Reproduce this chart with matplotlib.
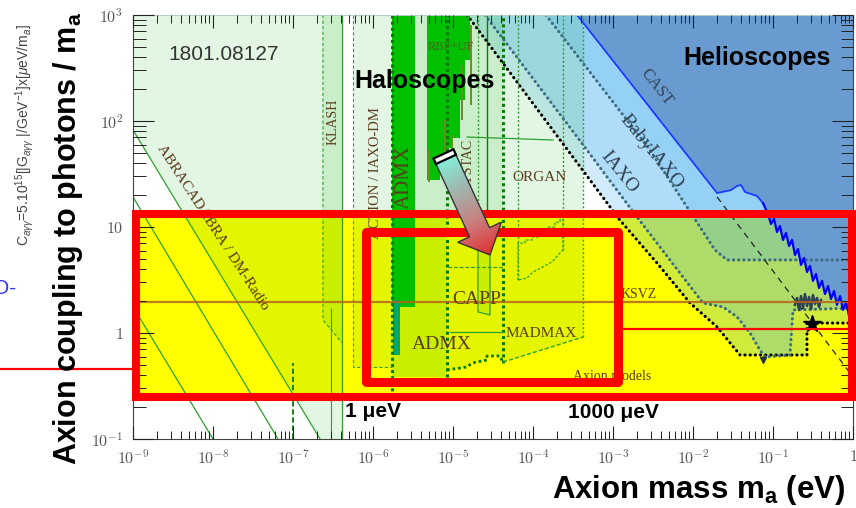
import numpy as np
import matplotlib
matplotlib.use("Agg")
import matplotlib.pyplot as plt
from matplotlib.patches import Polygon, Rectangle
from matplotlib.colors import LinearSegmentedColormap
from matplotlib.ticker import LogLocator, NullFormatter

plt.rcParams['font.family'] = ['Liberation Sans', 'DejaVu Sans']
plt.rcParams['mathtext.fontset'] = 'cm'
plt.rcParams['mathtext.rm'] = 'Liberation Sans'
plt.rcParams['mathtext.it'] = 'Liberation Sans:italic'
plt.rcParams['mathtext.bf'] = 'Liberation Sans:bold'

# ---------------- data: axion mass m_a (eV) vs C_agg = g/m ----------------
x_ticks = [1e-9, 1e-8, 1e-7, 1e-6, 1e-5, 1e-4, 1e-3, 1e-2, 1e-1, 1]
x_tick_labels = [r'$10^{-9}$', r'$10^{-8}$', r'$10^{-7}$', r'$10^{-6}$', r'$10^{-5}$',
                 r'$10^{-4}$', r'$10^{-3}$', r'$10^{-2}$', r'$10^{-1}$', r'$1$']
y_ticks = [0.1, 1, 10, 100, 1000]
y_tick_labels = [r'$10^{-1}$', r'$1$', r'$10$', r'$10^{2}$', r'$10^{3}$']

models_band = [0.249, 13.4]
ksvz_C = 1.96

# helioscopes
cast_m = [3.55e-4, 0.0200, 0.0299, 0.0355, 0.0398, 0.0447, 0.0631, 0.0750]
cast_C = [1000, 20.9, 22.3, 24.4, 24.9, 21.4, 19.6, 16.8]
cast_noise_m = [0.0866, 0.0944, 0.1029, 0.1122, 0.1223, 0.1334, 0.1454, 0.1585, 0.1728,
                0.1884, 0.2054, 0.2239, 0.2441, 0.2661, 0.2901, 0.3162, 0.3447, 0.3758,
                0.4097, 0.4467, 0.4870, 0.5309, 0.5788, 0.6310, 0.6879, 0.7499, 0.8175,
                0.8913, 1.0]
cast_noise_C = [13.27, 10.67, 11.89, 8.97, 10.21, 7.54, 8.78, 6.62, 7.54, 5.44, 6.20, 4.38,
                5.10, 3.76, 4.29, 3.10, 3.60, 2.66, 3.10, 2.33, 2.77, 2.09, 2.49, 1.84,
                2.23, 1.65, 1.96, 1.45, 1.65]
babyiaxo_m = [1.45e-4, 2.90e-3, 0.0188, 0.0266, 1.0]
babyiaxo_C = [1000, 53.2, 6.07, 4.89, 4.89]
iaxo_m = [2.51e-5, 4.73e-4, 2.0e-3, 0.0133, 0.0237, 0.0355, 0.0516, 0.0688, 0.0794,
          0.163, 0.178, 1.0]
iaxo_C = [1000, 53.2, 12.4, 1.92, 1.76, 1.42, 1.0, 0.69, 0.594, 0.619, 1.65, 1.72]
iaxo_plus_m = [1.50e-5, 1.22e-3, 3.55e-3, 9.17e-3, 0.0200, 0.0387, 0.266, 0.266, 1.0]
iaxo_plus_C = [1000, 11.6, 4.57, 1.92, 1.14, 0.62, 0.62, 1.24, 1.24]
trend_m = [0.0200, 1.0]
trend_C = [19.2, 0.385]
astro_noise_m = [0.188, 0.200, 0.211, 0.224, 0.237, 0.251, 0.266, 0.282, 0.299, 0.316,
                 0.335, 0.355, 0.376, 0.398]
astro_noise_C = [1.84, 2.14, 1.65, 2.23, 1.72, 2.33, 1.80, 2.19, 1.68, 2.28, 1.88, 2.14,
                 1.76, 2.05]
star_point = (0.31, 1.22)
iaxo_marker = (0.076, 0.56)

# haloscopes and LC circuits
abra_m = [1e-9, 1e-9, 2.18e-7, 4.10e-7, 4.10e-7]
abra_C = [1000, 82.2, 0.1, 0.1, 1000]
dmradio_m = [1e-9, 6.5e-8]
dmradio_C = [19.2, 0.1]
abra_low_m = [1e-9, 1e-8]
abra_low_C = [1.77, 0.1]
klash_m = [2.37e-7, 2.37e-7, 4.10e-7, 4.10e-7]
klash_C = [1000, 1.33, 0.805, 1000]
action_m = [5.62e-7, 5.62e-7, 1.73e-6, 1.73e-6]
action_C = [1000, 0.478, 0.478, 1000]
admx_m = [1.73e-6, 3.35e-6]
admx_C = [1.76, 1000]
admx_side_m = [1.78e-6, 2.18e-6]
admx_side_C = [0.62, 2.05]
proj1_m = [1.73e-6, 1.73e-6, 8.41e-6, 8.41e-6, 1.50e-5, 1.73e-5, 2.66e-5, 2.66e-5,
           3.87e-5, 4.22e-5, 4.22e-5]
proj1_C = [1000, 0.385, 0.385, 0.448, 0.478, 0.521, 0.556, 0.607, 0.607, 0.521, 1000]
proj2_m = [1.73e-6, 1.73e-6, 8.41e-6, 8.41e-6, 4.22e-5, 4.22e-5]
proj2_C = [1000, 0.385, 0.385, 13.6, 13.6, 1000]
madmax_m = [4.22e-5, 4.22e-5, 4.22e-4, 4.22e-4]
madmax_C = [1000, 0.532, 0.916, 1000]
rbf_m = [4.73e-6, 4.73e-6, 6.88e-6, 6.88e-6, 8.41e-6, 8.41e-6, 1.0e-5, 1.0e-5,
         1.22e-5, 1.22e-5, 1.41e-5, 1.41e-5, 1.63e-5, 1.63e-5]
rbf_C = [1000, 27.7, 27.7, 38.5, 38.5, 55.6, 55.6, 69.2, 69.2, 158, 158, 376, 376, 1000]
rbf_spike_m = [5.01e-6, 7.94e-6, 9.72e-6, 1.30e-5, 1.68e-5]
rbf_spike_lo = [26.6, 36.0, 53.2, 102, 141]
rbf_spike_hi = [53.2, 102, 73.8, 337, 805]
capp_m = [2.05e-5, 2.05e-5, 2.90e-5, 2.90e-5]
capp_C = [7.06, 1.58, 1.48, 7.06]
organ_m = [6.49e-5, 6.49e-5, 7.94e-5, 7.94e-5, 9.72e-5, 9.72e-5, 1.155e-4, 1.155e-4,
           1.50e-4, 1.50e-4, 1.88e-4, 1.88e-4, 2.18e-4, 2.18e-4, 2.37e-4, 2.37e-4,
           2.18e-4, 1.73e-4, 1.33e-4, 1.0e-4, 8.41e-5, 6.49e-5]
organ_C = [3.16, 7.06, 7.06, 7.53, 7.53, 8.05, 8.05, 8.97, 8.97, 10.0, 10.0, 11.1, 11.1,
           13.6, 13.6, 6.07, 5.69, 4.68, 4.20, 3.76, 3.30, 3.16]
haystac_top_m = [1.50e-5, 1.78e-4]
haystac_top_C = [70.6, 66.2]
capp_top_m = [8.6e-6, 4.22e-5]
capp_top_C = [4.20, 4.20]
proj_mid_m = [9.17e-6, 4.22e-5]
proj_mid_C = [1.02, 1.02]
dotted_thick_m = [1.73e-6, 8.41e-6, 4.22e-5]
dotted_thick_lo = [0.249, 0.385, 0.521]
dotted_thin_m = [2.05e-5, 6.49e-5, 2.37e-4, 4.22e-4]
dotted_thin_lo = [13.6, 3.16, 6.07, 0.916]
haystac_edge_m = 2.66e-5
haystac_edge_lo = 13.6
klash_wire_m = 2.99e-7
klash_wire_C = [0.1, 1.72]
lc_dash_m = 1e-7
lc_dash_C = [0.1, 0.52]

# highlight frames
outer_box_m = [1.09e-9, 0.972]
outer_box_C = [0.249, 13.4]
inner_box_m = [8.18e-7, 1.155e-3]
inner_box_C = [0.345, 8.97]
marker_right_m = [1.155e-3, 1.09]
marker_right_C = 1.09
marker_left_m = [2.0e-11, 1.09e-9]
marker_left_C = 0.457
arrow_tail = (7.6e-6, 48.9)
arrow_tip = (2.90e-5, 5.45)

# ---------------- figure ----------------
W, H = 856, 508
fig = plt.figure(figsize=(W / 100, H / 100), dpi=100)
ax = fig.add_axes([133 / W, 69 / H, 720 / W, 424 / H])
ax.set_xscale('log')
ax.set_yscale('log')
ax.set_xlim(1e-9, 1)
ax.set_ylim(0.1, 1000)

# axion model band
ax.fill_between([1e-9, 1], models_band[0], models_band[1], color='#ffff00', lw=0, zorder=1)

# helioscope sensitivity layers (translucent) and CAST exclusion (opaque)
blue = '#4bb0f0'
for mm, cc in [(iaxo_plus_m, iaxo_plus_C), (iaxo_m, iaxo_C), (babyiaxo_m, babyiaxo_C)]:
    ax.fill(list(mm) + [1.0], list(cc) + [1000], color=blue, alpha=0.25, lw=0, zorder=1.5)
cast_all_m = cast_m + cast_noise_m + [1.0]
cast_all_C = cast_C + cast_noise_C + [1000]
ax.fill(cast_all_m, cast_all_C, color='#6a9bd0', lw=0, zorder=2)

# haloscope layers (translucent green)
green = '#00b400'
for mm, cc in [(abra_m, abra_C), (klash_m, klash_C), (action_m, action_C),
               (proj1_m, proj1_C), (proj2_m, proj2_C), (madmax_m, madmax_C),
               (capp_m, capp_C)]:
    ax.fill(mm, cc, color=green, alpha=0.11, lw=0, zorder=2.2)

# ADMX excluded region and sidecar
ax.fill_between(admx_m, admx_C[0], admx_C[1], color='#00c000', lw=0, zorder=2.5)
ax.fill_between(admx_side_m, admx_side_C[0], admx_side_C[1], color='#00a86b', lw=0, zorder=2.6)
ax.fill(rbf_m, rbf_C, color='#00c000', lw=0, zorder=2.5)
ax.vlines(rbf_spike_m, rbf_spike_lo, rbf_spike_hi, color='#6b8e23', lw=1.4, zorder=2.6)

# region edges
lg = '#2ea02e'
dg = '#0a7a0a'
ax.plot(abra_m[1:3], abra_C[1:3], color=lg, lw=0.9, zorder=3)
ax.plot(dmradio_m, dmradio_C, color=lg, lw=0.9, zorder=3)
ax.plot(abra_low_m, abra_low_C, color=lg, lw=0.9, zorder=3)
ax.plot([abra_m[3], abra_m[4]], [0.1, 1000], color=lg, lw=0.9, zorder=3)
ax.plot(klash_m[:3], klash_C[:3], color=lg, lw=0.8, ls=(0, (3, 2)), zorder=3)
ax.plot(action_m[:3], action_C[:3], color=lg, lw=0.8, ls=(0, (3, 2)), zorder=3)
ax.vlines([klash_wire_m], klash_wire_C[0], klash_wire_C[1], color=lg, lw=0.8, zorder=3)
ax.vlines([lc_dash_m], lc_dash_C[0], lc_dash_C[1], color=dg, lw=1.3, ls=(0, (3, 1.5)), zorder=3)
ax.vlines(dotted_thick_m, dotted_thick_lo, 1000, color=dg, lw=2.2,
          linestyles=[(0, (1, 1))], zorder=3)
ax.vlines(dotted_thin_m, dotted_thin_lo, 1000, color=lg, lw=1.0,
          linestyles=[(0, (1.5, 1.5))], zorder=3)
ax.vlines([haystac_edge_m], haystac_edge_lo, 1000, color=dg, lw=1.0, zorder=3)
ax.plot(proj1_m[3:10], proj1_C[3:10], color=dg, lw=2.0, ls=(0, (1, 1)), zorder=3)
ax.plot(madmax_m[1:3], madmax_C[1:3], color=lg, lw=1.0, ls=(0, (3, 1.5)), zorder=3)
ax.plot(haystac_top_m, haystac_top_C, color=lg, lw=0.9, zorder=3)
ax.plot(capp_top_m, capp_top_C, color=lg, lw=0.9, ls=(0, (3, 1.5)), zorder=3)
ax.plot(proj_mid_m, proj_mid_C, color=lg, lw=0.9, zorder=3)
ax.plot(capp_m + [capp_m[0]], capp_C + [capp_C[0]], color=lg, lw=0.9, zorder=3)
ax.plot(organ_m, organ_C, color=lg, lw=0.9, ls=(0, (2, 1.5)), zorder=3)

# helioscope curves
dot = dict(lw=2.2, ls=(0, (0.1, 1.6)), dash_capstyle='round', zorder=4)
ax.plot(iaxo_plus_m, iaxo_plus_C, color='black', **dot)
ax.plot(iaxo_m, iaxo_C, color='#3b6e80', **dot)
ax.plot(babyiaxo_m, babyiaxo_C, color='#3b6e80', **dot)
ax.plot(cast_m, cast_C, color='#1a3cff', lw=1.3, zorder=4)
ax.plot(cast_m[-1:] + cast_noise_m, cast_C[-1:] + cast_noise_C, color='#0000ff', lw=1.6, zorder=4)
ax.plot(trend_m, trend_C, color='#222222', lw=0.9, ls=(0, (5, 4)), zorder=4)
ax.plot(astro_noise_m, astro_noise_C, color='#2b3f55', lw=1.8, zorder=4)
ax.plot(*star_point, marker='*', color='black', ms=13, zorder=4.5)
ax.plot(*iaxo_marker, marker='v', color='#223344', ms=4, zorder=4.5)

# KSVZ benchmark line
ax.plot([1e-9, 1], [ksvz_C, ksvz_C], color='#b5651d', lw=1.6, alpha=0.85, zorder=4)

# ---------------- labels inside the plot ----------------
serif = ['Liberation Serif', 'DejaVu Serif']
lab = '#5a3d1e'
ax.text(1.37e-8, 420, '1801.08127', fontsize=15, color='#333333', ha='center', va='center', zorder=6)
ax.text(4.47e-6, 240, 'Haloscopes', fontsize=18, fontweight='bold', ha='center', va='center', zorder=6)
ax.text(0.0631, 393, 'Helioscopes', fontsize=18, fontweight='bold', ha='center', va='center', zorder=6)
ax.text(1e-8, 9.8, 'ABRACADABRA / DM-Radio', family=serif, fontsize=11, color=lab,
        rotation=-57, rotation_mode='anchor', ha='center', va='center', zorder=6)
ax.text(3.16e-7, 98, 'KLASH', family=serif, fontsize=10, color=lab, rotation=90,
        ha='center', va='center', zorder=6)
ax.text(1.06e-6, 32.3, 'ACTION / IAXO-DM', family=serif, fontsize=10.5, color=lab, rotation=90,
        ha='center', va='center', zorder=6)
ax.text(2.45e-6, 29.6, 'ADMX', family=serif, fontsize=15, color=lab, rotation=90,
        ha='center', va='center', zorder=6)
ax.text(9.44e-6, 499, 'RBF+UF', family=serif, fontsize=9, color='#506020',
        ha='center', va='center', zorder=6)
ax.text(1.54e-5, 34.5, 'HAYSTAC', family=serif, fontsize=10, color=lab, rotation=90,
        ha='center', va='center', zorder=6)
ax.text(1.22e-4, 29.6, 'ORGAN', family=serif, fontsize=11, color=lab, ha='center', va='center', zorder=6)
ax.text(2.0e-5, 2.05, 'CAPP', family=serif, fontsize=14, color=lab, ha='center', va='center', zorder=6)
ax.text(7.29e-6, 0.771, 'ADMX', family=serif, fontsize=14, color=lab, ha='center', va='center', zorder=6)
ax.text(1.26e-4, 0.98, 'MADMAX', family=serif, fontsize=11, color=lab, ha='center', va='center', zorder=6)
ax.text(1.25e-3, 2.14, 'KSVZ', family=serif, fontsize=10, color=lab, ha='left', va='baseline', zorder=6)
ax.text(3.16e-4, 0.36, 'Axion models', family=serif, fontsize=10, color=lab, ha='left',
        va='baseline', zorder=6)
ax.text(3.55e-3, 209, 'CAST', family=serif, fontsize=12, color='#334455', rotation=-52,
        rotation_mode='anchor', ha='center', va='center', zorder=6)
ax.text(2.99e-3, 51, 'BabyIAXO', family=serif, fontsize=14, color='#334455', rotation=-51,
        rotation_mode='anchor', ha='center', va='center', zorder=6)
ax.text(1.19e-3, 33.0, 'IAXO', family=serif, fontsize=14, color='#334455', rotation=-51,
        rotation_mode='anchor', ha='center', va='center', zorder=6)
ax.text(1e-6, 0.18, '1 μeV', fontsize=15, fontweight='bold', ha='center', va='center', zorder=6)
ax.text(1e-3, 0.177, '1000 μeV', fontsize=15, fontweight='bold', ha='center', va='center', zorder=6)

# highlight frames
ax.add_patch(Rectangle((outer_box_m[0], outer_box_C[0]), outer_box_m[1] - outer_box_m[0],
                       outer_box_C[1] - outer_box_C[0], fill=False, ec='#ff0000', lw=5.8,
                       joinstyle='miter', clip_on=False, zorder=20))
ax.add_patch(Rectangle((inner_box_m[0], inner_box_C[0]), inner_box_m[1] - inner_box_m[0],
                       inner_box_C[1] - inner_box_C[0], fill=False, ec='#ff0000', lw=6.5,
                       joinstyle='round', clip_on=False, zorder=20))
ax.plot(marker_right_m, [marker_right_C] * 2, color='#ff0000', lw=1.6, clip_on=False, zorder=19)
ax.plot(marker_left_m, [marker_left_C] * 2, color='#ff0000', lw=1.6, clip_on=False, zorder=19)

# ---------------- axes styling ----------------
ax.set_xticks(x_ticks, labels=x_tick_labels)
ax.set_yticks(y_ticks, labels=y_tick_labels)
ax.xaxis.set_minor_locator(LogLocator(base=10, subs=np.arange(2, 10), numticks=20))
ax.yaxis.set_minor_locator(LogLocator(base=10, subs=np.arange(2, 10), numticks=20))
ax.xaxis.set_minor_formatter(NullFormatter())
ax.yaxis.set_minor_formatter(NullFormatter())
ax.tick_params(which='both', direction='in', top=True, right=True, colors='#222222',
               labelcolor='#555555', labelsize=11.5)
ax.tick_params(axis='x', which='major', length=9.5, width=0.8, pad=7)
ax.tick_params(axis='x', which='minor', length=5.5, width=0.7)
ax.tick_params(axis='y', which='major', length=15, width=0.8, pad=7)
ax.tick_params(axis='y', which='minor', length=9, width=0.7)
for t in ax.get_xticklabels() + ax.get_yticklabels():
    t.set_math_fontfamily('cm')
for s in ax.spines.values():
    s.set_color('#444444')
    s.set_linewidth(0.8)
    s.set_zorder(7)
ax.spines['top'].set_color('#b8d0c0')
ax.xaxis.set_zorder(7)
ax.yaxis.set_zorder(7)

# axis titles
fig.text(68 / W, 1 - 238 / H, r'Axion coupling to photons / m$_\mathbf{a}$', rotation=90,
         fontsize=22, fontweight='bold', math_fontfamily='custom', ha='center', va='center')
fig.text(25 / W, 1 - 135 / H,
         r'C$_{a\gamma\gamma}$=5.10$^{15}$[|G$_{a\gamma\gamma}$ |/GeV$^{-1}$]x[$\mu$eV/m$_{a}$]',
         rotation=90, fontsize=10, color='#444444', math_fontfamily='custom',
         ha='center', va='center')
fig.text(-7 / W, 1 - 288 / H, 'O-', fontsize=15, color='#3333ff', ha='left', va='center')
fig.text(699 / W, 1 - 490 / H, r'Axion mass m$_\mathbf{a}$ (eV)', fontsize=22.5, fontweight='bold',
         math_fontfamily='custom', ha='center', va='center')

# ---------------- gradient arrow ----------------
ov = fig.add_axes([0, 0, 1, 1], zorder=30)
ov.set_xlim(0, W)
ov.set_ylim(0, H)
ov.axis('off')
T = ax.transData.transform(arrow_tail)
P = ax.transData.transform(arrow_tip)
L = np.hypot(*(P - T))
u = (P - T) / L
n = np.array([-u[1], u[0]])
hw, hh, hl = 11.0, 24.0, 25.0
B = P - hl * u
pts = np.array([T + hw * n, B + hw * n, B + hh * n, P, B - hh * n, B - hw * n, T - hw * n])
grad = LinearSegmentedColormap.from_list('arrow', ['#7ff8e2', '#9fb8b0', '#c88080', '#e23030'])
x0, y0 = pts.min(axis=0) - 2
x1, y1 = pts.max(axis=0) + 2
gx, gy = np.meshgrid(np.linspace(x0, x1, 200), np.linspace(y0, y1, 200))
tt = ((gx - T[0]) * u[0] + (gy - T[1]) * u[1]) / L
poly = Polygon(pts, closed=True, fc='none', ec='#333333', lw=1.0, zorder=32)
ov.add_patch(poly)
im = ov.imshow(tt, extent=(x0, x1, y0, y1), origin='lower', cmap=grad, vmin=0, vmax=1,
               aspect='auto', interpolation='bilinear', zorder=31)
im.set_clip_path(poly)
cap = np.array([T + hw * n, T + 6 * u + hw * n, T + 6 * u - hw * n, T - hw * n])
ov.add_patch(Polygon(cap, closed=True, fc='white', ec='black', lw=1.6, zorder=33))
ov.set_xlim(0, W)
ov.set_ylim(0, H)

fig.savefig('out.png', dpi=100)
